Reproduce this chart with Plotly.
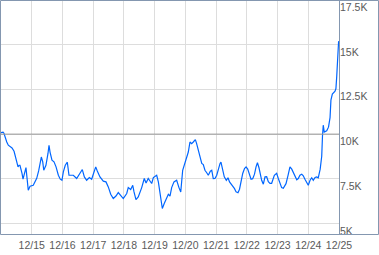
import pandas as pd
import plotly.graph_objects as go

# ---- data ----
start = "2023-12-14 00:00"
hours = [0, 1.6, 2.3, 3.1, 4.5, 5.7, 7.0, 8.6, 10.2, 11.7,
         13.3, 14.1, 14.8, 16.4, 17.2, 19.5, 21.3, 22.7, 25.2, 27.9,
         29.4, 31.5, 32.6, 33.4, 35.1, 36.7, 37.5, 38.3, 39.8, 41.4,
         43.0, 44.8, 46.3, 47.6, 48.7, 50.2, 51.8, 53.1, 56.5, 59.1,
         60.9, 63.5, 65.1, 66.9, 69.0, 70.8, 72.4, 74.0, 75.2, 77.3,
         79.9, 82.0, 83.8, 85.7, 87.7, 89.8, 91.6, 93.5, 95.5, 98.2,
         99.4, 101.3, 102.9, 103.9, 105.4, 107.2, 109.9, 111.9, 113.3, 115.0,
         117.7, 119.0, 121.6, 122.9, 124.2, 126.0, 127.5, 129.4, 130.7, 132.0,
         133.3, 135.1, 137.2, 139.0, 140.4, 141.9, 143.7, 145.0, 146.3, 147.6,
         148.9, 150.2, 151.8, 152.8, 154.1, 155.7, 156.8, 158.0, 159.3, 160.7,
         161.9, 163.5, 164.6, 165.8, 167.1, 168.5, 169.7, 171.1, 171.8, 173.2,
         174.4, 176.0, 177.3, 178.5, 179.8, 181.1, 182.4, 183.6, 185.1, 186.3,
         187.5, 188.8, 190.2, 191.4, 192.7, 193.9, 195.3, 196.6, 198.0, 199.2,
         200.3, 201.5, 202.7, 203.6, 204.9, 206.2, 207.5, 208.8, 210.1, 211.4,
         213.5, 215.3, 216.6, 217.9, 219.2, 220.5, 222.6, 224.2, 225.7, 227.1,
         228.3, 229.6, 231.0, 232.2, 233.5, 234.9, 236.1, 237.4, 238.8, 240.0,
         241.4, 242.7, 243.9, 245.3, 246.6, 247.8, 249.3, 250.5, 251.1, 251.7,
         252.5, 254.4, 255.8, 257.0, 257.7, 258.8, 260.9, 261.6, 262.2, 263.0, 263.7]
values_k = [10.08, 10.11, 10.05, 9.83, 9.56, 9.38, 9.32, 9.23, 9.04, 8.64,
            8.17, 8.26, 8.26, 7.81, 7.48, 8.13, 6.86, 7.09, 7.14, 7.53,
            7.94, 8.72, 8.45, 7.98, 8.26, 8.92, 9.38, 9.00, 8.54, 8.45,
            8.17, 7.70, 7.48, 7.42, 7.89, 8.26, 8.43, 7.70, 7.70, 7.52,
            7.76, 8.02, 7.61, 7.42, 7.57, 7.48, 7.83, 8.17, 7.94, 7.61,
            7.37, 7.33, 7.05, 6.64, 6.40, 6.54, 6.73, 6.54, 6.40, 6.68,
            7.01, 6.90, 7.14, 6.77, 6.34, 6.49, 7.01, 7.52, 7.27, 7.52,
            7.24, 7.57, 7.70, 7.33, 6.68, 5.84, 6.12, 6.49, 6.64, 6.54,
            7.01, 7.33, 7.42, 7.01, 6.77, 7.98, 8.43, 8.72, 9.00, 9.56,
            9.47, 9.56, 9.69, 9.47, 9.10, 8.65, 8.36, 8.30, 7.98, 7.84,
            7.70, 7.93, 7.98, 7.51, 7.52, 7.70, 8.08, 8.36, 8.43, 7.98,
            7.61, 7.42, 7.56, 7.33, 7.20, 7.11, 6.95, 6.77, 6.72, 6.92,
            7.42, 7.80, 8.08, 8.17, 8.05, 7.80, 7.48, 7.51, 7.76, 8.17,
            8.40, 8.12, 7.70, 7.42, 7.20, 7.61, 7.62, 7.34, 7.25, 7.25,
            7.70, 7.81, 7.52, 7.23, 7.01, 6.97, 7.23, 7.70, 8.17, 8.04,
            7.84, 7.65, 7.45, 7.52, 7.70, 7.76, 7.67, 7.48, 7.28, 7.14,
            7.42, 7.56, 7.42, 7.58, 7.61, 7.56, 8.04, 8.76, 9.88, 10.50,
            10.12, 10.19, 10.39, 10.92, 11.90, 12.24, 12.40, 12.55, 13.20, 14.13, 15.20]
x_tick_dates = ["2023-12-15", "2023-12-16", "2023-12-17", "2023-12-18", "2023-12-19",
                "2023-12-20", "2023-12-21", "2023-12-22", "2023-12-23", "2023-12-24",
                "2023-12-25"]
x_tick_labels = ["12/15", "12/16", "12/17", "12/18", "12/19", "12/20",
                 "12/21", "12/22", "12/23", "12/24", "12/25"]
y_tick_vals = [5, 7.5, 10, 12.5, 15, 17.5]
y_tick_labels = ["5K", "7.5K", "10K", "12.5K", "15K", "17.5K"]
reference_level = 10

n = min(len(hours), len(values_k))
times = pd.Timestamp(start) + pd.to_timedelta(hours[:n], unit="h")

W, H = 379, 255
ML, MR, MT, MB = 1, 40, 0, 20
FRAME = "#8497B0"
GRID = "#DDDDDD"
TXT = "#5A5A5A"
FS = 10.5

fig = go.Figure()
fig.add_trace(go.Scatter(x=times, y=values_k[:n], mode="lines",
                         line=dict(color="#0066FF", width=1.2),
                         hoverinfo="skip", showlegend=False))

fig.update_layout(
    width=W, height=H,
    margin=dict(l=ML, r=MR, t=MT, b=MB, pad=0),
    paper_bgcolor="white", plot_bgcolor="white",
    font=dict(family="Liberation Sans, Arial, sans-serif", size=FS, color=TXT),
    xaxis=dict(range=["2023-12-14 00:00", "2023-12-25 00:00"],
               tickmode="array", tickvals=x_tick_dates, ticktext=x_tick_labels,
               showgrid=True, gridcolor=GRID, gridwidth=1,
               zeroline=False, showline=False, ticks="",
               ticklabelstandoff=2,
               tickfont=dict(size=FS, color=TXT)),
    yaxis=dict(range=[4.36, 17.5], side="right",
               tickmode="array", tickvals=y_tick_vals, ticktext=y_tick_labels,
               showgrid=True, gridcolor=GRID, gridwidth=1,
               zeroline=False, showline=False, ticks="",
               ticklabelposition="outside bottom",
               tickfont=dict(size=FS, color=TXT)),
)

# reference line at 10K
fig.add_shape(type="line", xref="paper", x0=0, x1=1, yref="y",
              y0=reference_level, y1=reference_level,
              line=dict(color="#999999", width=1), layer="above")

plot_w = W - ML - MR
plot_h = H - MT - MB
def px_x(p):
    return (p - ML) / plot_w
def px_y(p):
    return (H - MB - p) / plot_h

# outer frame and divider between plot and y labels
fig.add_shape(type="rect", xref="paper", yref="paper",
              x0=px_x(0.5), x1=px_x(378.5), y0=px_y(234.5), y1=px_y(0.5),
              line=dict(color=FRAME, width=1), fillcolor="rgba(0,0,0,0)", layer="above")
fig.add_shape(type="line", xref="paper", yref="paper",
              x0=px_x(339.5), x1=px_x(339.5), y0=px_y(234.5), y1=px_y(0.5),
              line=dict(color=FRAME, width=1), layer="above")

fig.write_html("out.html")
